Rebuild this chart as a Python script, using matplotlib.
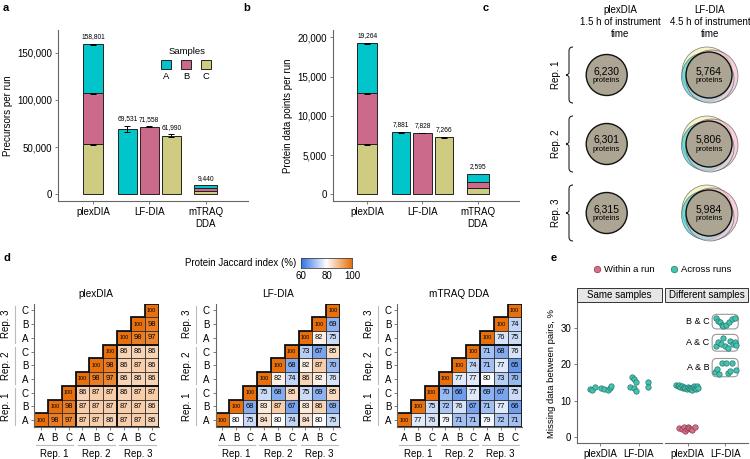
import matplotlib
matplotlib.use("Agg")
import numpy as np
import matplotlib.pyplot as plt
from matplotlib.colors import LinearSegmentedColormap, Normalize
from matplotlib.patches import Rectangle, Circle, FancyBboxPatch, PathPatch, Polygon
from matplotlib.path import Path

plt.rcParams["font.family"] = ["Liberation Sans", "DejaVu Sans"]

W, H = 750, 459

# ---- data -----------------------------------------------------------------
samples = ["A", "B", "C"]
sample_colors = {"A": "#00c6cc", "B": "#cb6a8a", "C": "#cfcb80"}
methods = ["plexDIA", "LF-DIA", "mTRAQ\nDDA"]

# panel a: precursors per run (A, B, C)
prec_plexdia = [51801, 54100, 52900]
prec_plexdia_err = [700, 600, 500]
prec_lfdia = [69531, 71558, 61990]
prec_lfdia_err = [3300, 300, 1700]
prec_mtraq = [3240, 2900, 3300]
prec_totals = ["158,801", "69,531", "71,558", "61,990", "9,440"]

# panel b: protein data points per run (A, B, C)
prot_plexdia = [6398, 6496, 6370]
prot_plexdia_err = [60, 50, 50]
prot_lfdia = [7881, 7828, 7266]
prot_lfdia_err = [110, 30, 60]
prot_mtraq = [1065, 765, 765]
prot_totals = ["19,264", "7,881", "7,828", "7,266", "2,595"]

# panel c: proteins per replicate
reps = ["Rep. 1", "Rep. 2", "Rep. 3"]
venn_plexdia = ["6,230", "6,301", "6,315"]
venn_lfdia = ["5,764", "5,806", "5,984"]

# panel d: Jaccard index rows (row i starts at column i)
jac_plexdia = [
    [100, 98, 97, 87, 87, 86, 87, 87, 86],
    [100, 98, 87, 87, 87, 87, 87, 86],
    [100, 86, 87, 87, 86, 87, 87],
    [100, 98, 97, 86, 86, 86],
    [100, 98, 86, 87, 86],
    [100, 86, 86, 86],
    [100, 98, 97],
    [100, 98],
    [100],
]
jac_lfdia = [
    [100, 80, 75, 84, 80, 74, 84, 80, 75],
    [100, 68, 83, 87, 67, 83, 86, 69],
    [100, 75, 68, 85, 75, 69, 85],
    [100, 82, 74, 86, 82, 76],
    [100, 68, 82, 87, 70],
    [100, 73, 67, 85],
    [100, 82, 75],
    [100, 69],
    [100],
]
jac_mtraq = [
    [100, 77, 76, 79, 71, 71, 79, 72, 71],
    [100, 75, 72, 76, 67, 71, 77, 66],
    [100, 70, 66, 77, 69, 67, 75],
    [100, 77, 77, 80, 73, 70],
    [100, 74, 71, 77, 65],
    [100, 71, 68, 76],
    [100, 76, 75],
    [100, 74],
    [100],
]

# panel e: missing data between pairs (%)
same_plexdia = [13.3, 13.0, 13.7, 13.4, 13.2, 12.9, 13.5, 14.1]
same_plexdia_off = [-0.28, -0.22, -0.13, 0.03, 0.09, 0.19, 0.24, 0.28]
same_lfdia = [16.4, 16.0, 15.1, 13.8, 13.4, 12.8, 15.2, 13.9]
same_lfdia_off = [-0.17, -0.13, -0.08, -0.22, -0.12, -0.08, 0.24, 0.24]
diff_plexdia = [14.3, 14.1, 14.4, 13.9, 14.2, 13.6, 13.8, 13.5, 13.3, 13.7,
                13.4, 13.2, 13.6, 13.1, 13.9, 14.2, 13.5, 13.3, 14.0, 13.6]
diff_plexdia_off = [-0.3, -0.26, -0.22, -0.2, -0.16, -0.13, -0.1, -0.06, -0.03, 0.0,
                    0.03, 0.06, 0.09, 0.12, 0.15, 0.18, 0.2, 0.23, 0.25, 0.28]
within_plexdia = [2.6, 2.2, 2.8, 1.8, 2.4, 2.9, 2.5, 2.3, 1.9, 2.7]
within_plexdia_off = [-0.22, -0.15, -0.1, -0.06, -0.03, 0.0, 0.04, 0.08, 0.12, 0.2]
lf_pairs = ["B & C", "A & C", "A & B"]
lf_pair_vals = {
    "B & C": [32.6, 32.0, 31.5, 30.8, 30.4, 30.9, 31.6, 32.3, 32.8],
    "A & C": [25.1, 26.2, 25.5, 27.2, 25.0, 24.5, 26.3, 25.7, 26.0, 25.2],
    "A & B": [17.9, 18.6, 17.3, 20.4, 20.4, 17.6, 18.3, 20.3, 18.4],
}
lf_pair_off = {
    "B & C": [-0.25, -0.2, -0.13, -0.1, -0.05, 0.03, 0.1, 0.18, 0.25],
    "A & C": [-0.26, -0.2, -0.12, -0.05, 0.0, 0.07, 0.13, 0.2, 0.25, 0.27],
    "A & B": [-0.27, -0.22, -0.17, -0.08, 0.03, 0.06, 0.12, 0.18, 0.27],
}
lf_pair_box = {"B & C": (29.7, 33.7), "A & C": (23.6, 28.2), "A & B": (16.6, 21.6)}

SPINE = "#666666"


def px_axes(fig, x0, y0, x1, y1):
    return fig.add_axes([x0 / W, 1 - y1 / H, (x1 - x0) / W, (y1 - y0) / H])


def style_axes(ax, fs=7):
    for s in ["top", "right"]:
        ax.spines[s].set_visible(False)
    for s in ["left", "bottom"]:
        ax.spines[s].set_color(SPINE)
        ax.spines[s].set_linewidth(0.8)
    ax.tick_params(labelsize=fs, length=2.5, width=0.6, color=SPINE, pad=2)
    ax.set_facecolor("none")


def draw_bars(ax, plex, plex_err, lf, lf_err, mtraq, totals, ylim, yticks, ylabel):
    style_axes(ax)
    ekw = dict(fmt="none", ecolor="black", elinewidth=0.7, capsize=2.2, capthick=0.7)
    # stacked plexDIA (C bottom, then B, then A)
    bottom = 0
    for i in [2, 1, 0]:
        ax.bar(0, plex[i], 0.36, bottom=bottom, color=sample_colors[samples[i]],
               edgecolor="#222222", linewidth=0.7)
        bottom += plex[i]
        ax.errorbar(0, bottom, yerr=plex_err[i], **ekw)
    ax.annotate(totals[0], (0, bottom + plex_err[0]), xytext=(0, 2.5),
                textcoords="offset points", ha="center", va="bottom", fontsize=4.8)
    # LF-DIA dodged
    for k, off in enumerate([-0.39, 0, 0.39]):
        ax.bar(1 + off, lf[k], 0.34, color=sample_colors[samples[k]],
               edgecolor="#222222", linewidth=0.7)
        ax.errorbar(1 + off, lf[k], yerr=lf_err[k], **ekw)
        ax.annotate(totals[1 + k], (1 + off, lf[k] + lf_err[k]), xytext=(0, 2.5),
                    textcoords="offset points", ha="center", va="bottom", fontsize=4.8)
    # stacked mTRAQ
    bottom = 0
    for i in [2, 1, 0]:
        ax.bar(2, mtraq[i], 0.4, bottom=bottom, color=sample_colors[samples[i]],
               edgecolor="#222222", linewidth=0.7)
        bottom += mtraq[i]
    ax.annotate(totals[4], (2, bottom), xytext=(0, 2.5),
                textcoords="offset points", ha="center", va="bottom", fontsize=4.8)
    ax.set_xlim(-0.62, 2.75)
    ax.set_ylim(*ylim)
    ax.set_yticks(yticks)
    ax.set_yticklabels([f"{t:,}" for t in yticks])
    ax.set_xticks([0, 1, 2])
    ax.set_xticklabels(methods)
    ax.set_ylabel(ylabel, fontsize=7, labelpad=3)


fig = plt.figure(figsize=(W / 100, H / 100), dpi=100)

# ---- a --------------------------------------------------------------------
ax_a = px_axes(fig, 58, 30, 248, 201)
draw_bars(ax_a, prec_plexdia, prec_plexdia_err, prec_lfdia, prec_lfdia_err, prec_mtraq,
          prec_totals, (-7100, 174000), [0, 50000, 100000, 150000], "Precursors per run")

# ---- b --------------------------------------------------------------------
ax_b = px_axes(fig, 333, 30, 519, 201)
draw_bars(ax_b, prot_plexdia, prot_plexdia_err, prot_lfdia, prot_lfdia_err, prot_mtraq,
          prot_totals, (-850, 20930), [0, 5000, 10000, 15000, 20000],
          "Protein data points per run")

# ---- d --------------------------------------------------------------------
cmap = LinearSegmentedColormap.from_list(
    "jac", [(0, "#3273e3"), (0.5, "#ffffff"), (1, "#e8700c")])
norm = Normalize(60, 100)


def draw_heat(ax, rows, title):
    n = len(rows)
    for y, row in enumerate(rows):
        for k, v in enumerate(row):
            x = y + k
            ax.add_patch(Rectangle((x, y), 1, 1, fc=cmap(norm(v)), ec="#222222", lw=0.5))
            ax.text(x + 0.5, y + 0.5, str(v), ha="center", va="center",
                    fontsize=3.9 if v == 100 else 5.4)
    # block outlines
    for bi in range(3):
        for bj in range(bi, 3):
            if bi == bj:
                b = 3 * bi
                verts = [(b, b), (b + 3, b), (b + 3, b + 3), (b + 2, b + 3), (b + 2, b + 2),
                         (b + 1, b + 2), (b + 1, b + 1), (b, b + 1)]
                ax.add_patch(Polygon(verts, closed=True, fill=False, lw=1.3, ec="#111111"))
            else:
                ax.add_patch(Rectangle((3 * bj, 3 * bi), 3, 3, fill=False, lw=1.3,
                                       ec="#111111"))
    ax.set_xlim(0, n)
    ax.set_ylim(0, n)
    style_axes(ax, fs=7)
    ax.tick_params(pad=1.5)
    ax.set_xticks(np.arange(n) + 0.5)
    ax.set_xticklabels(samples * 3)
    ax.set_yticks(np.arange(n) + 0.5)
    ax.set_yticklabels(samples * 3)
    xt = ax.get_xaxis_transform()
    yt = ax.get_yaxis_transform()
    for g in range(3):
        ax.plot([3 * g + 0.15, 3 * g + 2.85], [-0.148, -0.148], transform=xt,
                color="#bbbbbb", lw=0.8, clip_on=False)
        ax.text(3 * g + 1.5, -0.175, reps[g], transform=xt, ha="center", va="top",
                fontsize=7)
        ax.plot([-0.155, -0.155], [3 * g + 0.15, 3 * g + 2.85], transform=yt,
                color="#bbbbbb", lw=0.8, clip_on=False)
        ax.text(-0.225, 3 * g + 1.5, reps[g], transform=yt, ha="center", va="center",
                rotation=90, fontsize=7)
    ax.set_title(title, fontsize=7.2, pad=5)


for (x0, x1), rows, title in zip([(34, 158.5), (215.5, 340), (397, 521.5)],
                                 [jac_plexdia, jac_lfdia, jac_mtraq],
                                 ["plexDIA", "LF-DIA", "mTRAQ DDA"]):
    draw_heat(px_axes(fig, x0, 303.5, x1, 427), rows, title)

ax_cb = px_axes(fig, 301, 258, 352, 268)
ax_cb.imshow(np.linspace(60, 100, 200)[None, :], aspect="auto", cmap=cmap,
             extent=(60, 100, 0, 1))
ax_cb.set_yticks([])
ax_cb.set_xticks([60, 80, 100])
ax_cb.tick_params(labelsize=7, length=0, pad=2)
for s in ax_cb.spines.values():
    s.set_linewidth(0.6)
    s.set_color("#444444")

# ---- e --------------------------------------------------------------------
pt = dict(s=15, linewidths=0.5, zorder=3)
teal, teal_e = "#45c2b0", "#24786c"
pink, pink_e = "#d8708a", "#8a3a4e"

ax_e1 = px_axes(fig, 577.3, 303, 661.7, 443)
ax_e2 = px_axes(fig, 665, 303, 748, 443)
for ax in [ax_e1, ax_e2]:
    style_axes(ax)
    ax.set_xlim(0.4, 2.6)
    ax.set_ylim(-1.55, 36.8)
    ax.set_xticks([1, 2])
    ax.set_xticklabels(["plexDIA", "LF-DIA"])
ax_e1.set_yticks([0, 10, 20, 30])
ax_e1.set_ylabel("Missing data between pairs, %", fontsize=6.8, labelpad=3)
ax_e2.spines["left"].set_visible(False)
ax_e2.set_yticks([])

ax_e1.scatter(1 + np.array(same_plexdia_off), same_plexdia, c=teal, edgecolors=teal_e, **pt)
ax_e1.scatter(2 + np.array(same_lfdia_off), same_lfdia, c=teal, edgecolors=teal_e, **pt)
ax_e2.scatter(1 + np.array(diff_plexdia_off), diff_plexdia, c=teal, edgecolors=teal_e, **pt)
ax_e2.scatter(1 + np.array(within_plexdia_off), within_plexdia, c=pink, edgecolors=pink_e, **pt)
for pair in lf_pairs:
    y0, y1 = lf_pair_box[pair]
    ax_e2.add_patch(FancyBboxPatch((1.65, y0), 0.69, y1 - y0,
                                   boxstyle="round,pad=0,rounding_size=0.12",
                                   mutation_aspect=10.5, fc="white", ec="#999999", lw=0.8,
                                   zorder=2))
    ax_e2.text(1.58, (y0 + y1) / 2, pair, ha="right", va="center", fontsize=6.5)
    ax_e2.scatter(2 + np.array(lf_pair_off[pair]), lf_pair_vals[pair], c=teal,
                  edgecolors=teal_e, **pt)

for ax, lab in [(ax_e1, "Same samples"), (ax_e2, "Different samples")]:
    ax.add_patch(Rectangle((0, 1.01), 1, 0.1, transform=ax.transAxes, clip_on=False,
                           fc="#e6e6e6", ec="#333333", lw=0.7))
    ax.text(0.5, 1.06, lab, transform=ax.transAxes, ha="center", va="center", fontsize=7)

# ---- overlay: labels, legend of a, panel c, legend of e --------------------
ov = fig.add_axes([0, 0, 1, 1])
ov.set_xlim(0, W)
ov.set_ylim(H, 0)
ov.axis("off")

for lab, x, y in [("a", 3, 8), ("b", 243, 8), ("c", 483, 8), ("d", 3, 258), ("e", 551, 258)]:
    ov.text(x, y, lab, fontsize=8, fontweight="bold", ha="left", va="center")

# legend a
ov.text(187, 51, "Samples", fontsize=6.8, ha="center", va="center")
for k, s in enumerate(samples):
    cx = 166 + 20 * k
    ov.add_patch(Rectangle((cx - 5, 59.5), 10, 9.5, fc=sample_colors[s], ec="#222222", lw=0.7))
    ov.text(cx, 76.5, s, fontsize=6.8, ha="center", va="center")

# panel c
ov.text(620, 22, "plexDIA\n1.5 h of instrument\ntime", fontsize=7, ha="center",
        va="center", linespacing=1.2)
ov.text(710, 22, "LF-DIA\n4.5 h of instrument\ntime", fontsize=7, ha="center",
        va="center", linespacing=1.2)
taupe = "#aca594"


def brace(ax, x, yc, half):
    y0, y1 = yc - half, yc + half
    verts = [(x + 4, y0), (x, y0), (x, y0 + 4), (x, yc - 3), (x, yc), (x - 3, yc),
             (x, yc), (x, yc + 3), (x, y1 - 4), (x, y1), (x + 4, y1)]
    codes = [Path.MOVETO, Path.CURVE3, Path.CURVE3, Path.LINETO, Path.CURVE3, Path.CURVE3,
             Path.CURVE3, Path.CURVE3, Path.LINETO, Path.CURVE3, Path.CURVE3]
    ax.add_patch(PathPatch(Path(verts, codes), fill=False, lw=0.8, ec="#222222"))


for k, cy in enumerate([75, 144, 213]):
    brace(ov, 569, cy, 28)
    ov.text(556, cy, reps[k], rotation=90, fontsize=7, ha="center", va="center")
    ov.add_patch(Circle((606.7, cy), 20.5, fc=taupe, ec="#111111", lw=1.0))
    ov.text(606.7, cy - 4, venn_plexdia[k], fontsize=7.5, ha="center", va="center")
    ov.text(606.7, cy + 5.5, "proteins", fontsize=5.5, ha="center", va="center")
    for (dx, dy, r, col) in [(-2, -3, 25, "#f1eeb0"), (3, 1, 26, "#f3bccb"),
                             (-3, 2, 24.5, "#45d0d6"), (1, 4, 24, "#d6d5e0")]:
        ov.add_patch(Circle((709 + dx, cy + dy), r, fc=col, ec="#444444", lw=0.5, alpha=0.7))
    ov.add_patch(Circle((709, cy), 23, fc=taupe, ec="#111111", lw=1.0))
    ov.text(709, cy - 4, venn_lfdia[k], fontsize=7.5, ha="center", va="center")
    ov.text(709, cy + 5.5, "proteins", fontsize=5.5, ha="center", va="center")

# legend e
ov.scatter([597], [269], c=pink, edgecolors=pink_e, s=22, linewidths=0.5)
ov.text(604, 269, "Within a run", fontsize=6.8, ha="left", va="center")
ov.scatter([674], [269], c=teal, edgecolors=teal_e, s=22, linewidths=0.5)
ov.text(681, 269, "Across runs", fontsize=6.8, ha="left", va="center")
ov.text(296, 263, "Protein Jaccard index (%)", fontsize=7, ha="right", va="center")

fig.savefig("out.png", dpi=100)
